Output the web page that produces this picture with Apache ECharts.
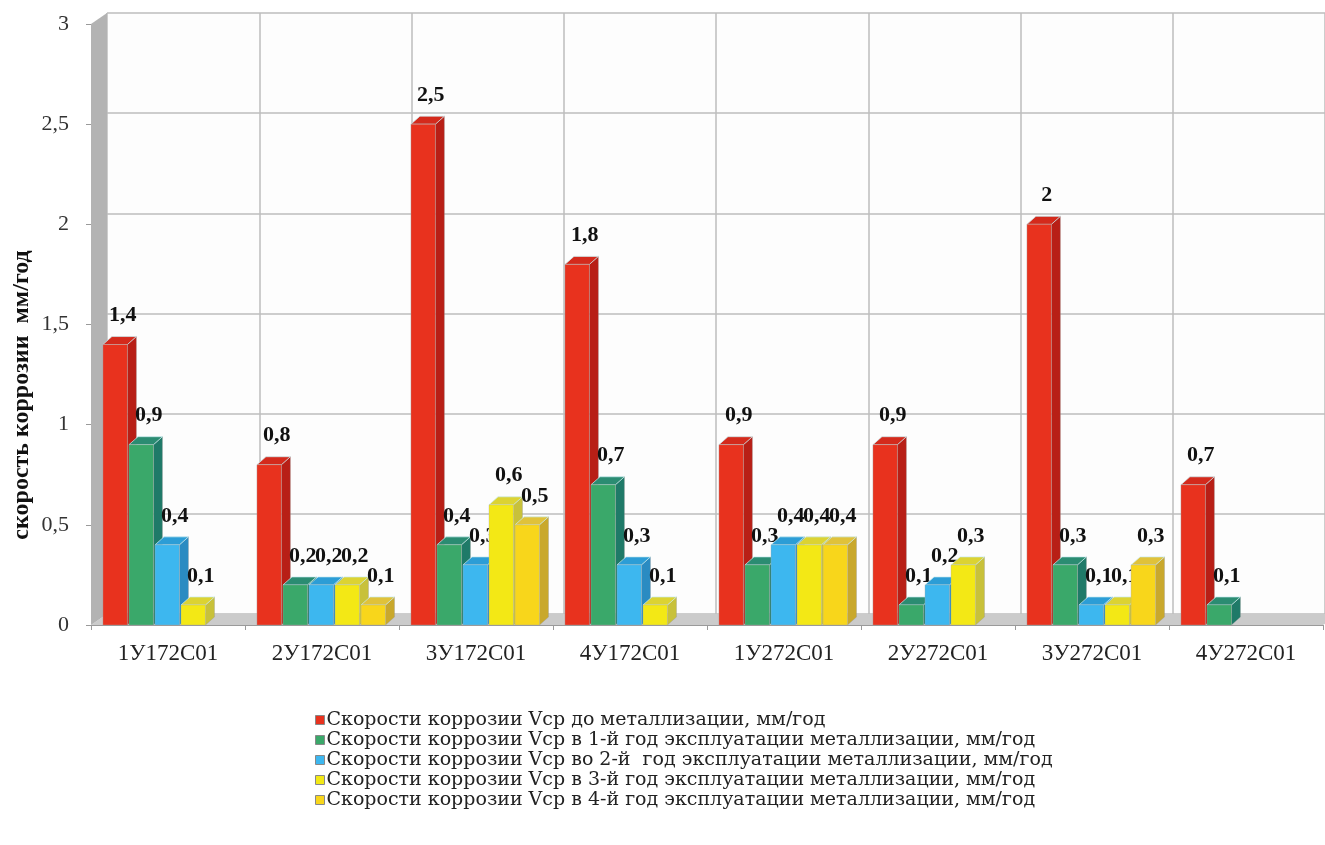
<!DOCTYPE html>
<html>
<head>
<meta charset="utf-8">
<title>Скорость коррозии</title>
<script src="https://cdn.jsdelivr.net/npm/echarts@6/dist/echarts.min.js"></script>
<style>
  html, body { margin: 0; padding: 0; background: #fff; }
  #chart { width: 1325px; height: 845px; }
</style>
</head>
<body>
<div id="chart"></div>
<script>
// categories along the x axis
var categories = ['1У172С01', '2У172С01', '3У172С01', '4У172С01', '1У272С01', '2У272С01', '3У272С01', '4У272С01'];

// one array per series, null = no bar
var beforeMet = [1.4, 0.8, 2.5, 1.8, 0.9, 0.9, 2, 0.7];
var year1 = [0.9, 0.2, 0.4, 0.7, 0.3, 0.1, 0.3, 0.1];
var year2 = [0.4, 0.2, 0.3, 0.3, 0.4, 0.2, 0.1, null];
var year3 = [0.1, 0.2, 0.6, 0.1, 0.4, 0.3, 0.1, null];
var year4 = [null, 0.1, 0.5, null, 0.4, null, 0.3, null];

var seriesNames = [
  'Скорости коррозии Vср до металлизации, мм/год',
  'Скорости коррозии Vср в 1-й год эксплуатации металлизации, мм/год',
  'Скорости коррозии Vср во 2-й  год эксплуатации металлизации, мм/год',
  'Скорости коррозии Vср в 3-й год эксплуатации металлизации, мм/год',
  'Скорости коррозии Vср в 4-й год эксплуатации металлизации, мм/год'
];

var yTicks = [0, 0.5, 1, 1.5, 2, 2.5, 3];

var allValues = [beforeMet, year1, year2, year3, year4];

var palette = [
  { front: '#e8321e', side: '#b81f16', top: '#d42a1c' },
  { front: '#3aa86a', side: '#1f7a68', top: '#2b8c72' },
  { front: '#3db7ef', side: '#2a8bc2', top: '#2c9dd6' },
  { front: '#f3e815', side: '#c8c13a', top: '#dcd332' },
  { front: '#f8d61b', side: '#c9a82c', top: '#e0c23a' }
];

var FONT = '"Liberation Serif", "Times New Roman", serif';
var DX = 9, DY = 8;     // bar depth
var BX = 16, BY = 11;   // wall depth

function fmt(v) {
  return String(v).replace('.', ',');
}

function makeBar(si) {
  return function (params, api) {
    var cat = api.value(0);
    var v = api.value(1);
    var band = api.size([1, 0])[0];
    var pitch = band * 0.169;
    var w = pitch * 0.94;
    var base = api.coord([cat, 0]);
    var top = api.coord([cat, v]);
    var x0 = base[0] - 2.5 * pitch + si * pitch;
    var x1 = x0 + w;
    var y0 = top[1], yb = base[1];
    var col = palette[si];
    return {
      type: 'group',
      children: [
        {
          type: 'polygon',
          shape: { points: [[x1, y0], [x1 + DX, y0 - DY], [x1 + DX, yb - DY], [x1, yb]] },
          style: { fill: col.side, stroke: 'rgba(150,150,150,0.6)', lineWidth: 0.6 }
        },
        {
          type: 'polygon',
          shape: { points: [[x0, y0], [x0 + DX, y0 - DY], [x1 + DX, y0 - DY], [x1, y0]] },
          style: { fill: col.top, stroke: 'rgba(200,235,240,0.9)', lineWidth: 0.8 }
        },
        {
          type: 'rect',
          shape: { x: x0, y: y0, width: w, height: yb - y0 },
          style: { fill: col.front, stroke: 'rgba(170,170,170,0.6)', lineWidth: 0.6 }
        },
        {
          type: 'text',
          x: x0 + w / 2 + DX / 2 + 3,
          y: y0 - DY - 10,
          style: {
            text: fmt(v),
            fill: '#111',
            font: 'bold 22px ' + FONT,
            textAlign: 'center',
            textVerticalAlign: 'bottom'
          }
        }
      ]
    };
  };
}

// floor strip and left wall of the 3d box
function renderDecor(params, api) {
  var band = api.size([1, 0])[0];
  var p0 = api.coord([0, 0]);
  var pN = api.coord([categories.length - 1, 0]);
  var pTop = api.coord([0, yTicks[yTicks.length - 1]]);
  var left = p0[0] - band / 2;
  var right = pN[0] + band / 2;
  var yb = p0[1], yt = pTop[1];
  return {
    type: 'group',
    children: [
      {
        type: 'polygon',
        shape: { points: [[left, yb], [left + BX, yb - BY], [right + BX, yb - BY], [right, yb]] },
        style: { fill: '#cbcbcb' }
      },
      {
        type: 'polygon',
        shape: { points: [[left, yt], [left + BX, yt - BY], [left + BX, yb - BY], [left, yb]] },
        style: { fill: '#b3b3b3' }
      }
    ]
  };
}

var series = [{
  type: 'custom',
  name: 'decor',
  xAxisIndex: 0,
  yAxisIndex: 0,
  z: 1,
  silent: true,
  renderItem: renderDecor,
  data: [[0, 0]]
}];

allValues.forEach(function (vals, si) {
  var data = [];
  vals.forEach(function (v, i) {
    if (v !== null) data.push([i, v]);
  });
  series.push({
    type: 'custom',
    name: seriesNames[si],
    xAxisIndex: 0,
    yAxisIndex: 0,
    z: 2,
    itemStyle: { color: palette[si].front },
    encode: { x: 0, y: 1 },
    renderItem: makeBar(si),
    data: data
  });
});

var chart = echarts.init(document.getElementById('chart'));
chart.setOption({
  backgroundColor: '#ffffff',
  animation: false,
  grid: [
    { left: 91, top: 24, width: 1232, height: 601 },
    { left: 91 + BX, top: 24 - BY, width: 1232, height: 601, show: true, backgroundColor: '#fdfdfd', borderWidth: 0 }
  ],
  xAxis: [
    {
      type: 'category',
      gridIndex: 0,
      data: categories,
      z: 5,
      axisLine: { lineStyle: { color: '#9a9a9a', width: 1 } },
      axisTick: { show: true, length: 5, lineStyle: { color: '#9a9a9a' } },
      axisLabel: { color: '#222', fontFamily: FONT, fontSize: 23, margin: 17 },
      splitLine: { show: false }
    },
    {
      type: 'category',
      gridIndex: 1,
      data: categories,
      axisLine: { show: false },
      axisTick: { show: false },
      axisLabel: { show: false },
      splitLine: { show: true, interval: 0, lineStyle: { color: '#bdbdbd', width: 1.5 } }
    }
  ],
  yAxis: [
    {
      type: 'value',
      gridIndex: 0,
      min: yTicks[0],
      max: yTicks[yTicks.length - 1],
      interval: 0.5,
      axisLine: { show: false },
      axisTick: { show: true, length: 5, lineStyle: { color: '#9a9a9a' } },
      axisLabel: {
        color: '#333',
        fontFamily: FONT,
        fontSize: 22,
        margin: 22,
        formatter: function (v) { return fmt(v); }
      },
      splitLine: { show: false }
    },
    {
      type: 'value',
      gridIndex: 1,
      min: yTicks[0],
      max: yTicks[yTicks.length - 1],
      interval: 0.5,
      axisLine: { show: false },
      axisTick: { show: false },
      axisLabel: { show: false },
      splitLine: { show: true, lineStyle: { color: '#bdbdbd', width: 1.5 } }
    }
  ],
  legend: {
    data: seriesNames,
    orient: 'vertical',
    left: 310,
    top: 705,
    icon: 'rect',
    itemWidth: 9,
    itemHeight: 9,
    itemGap: 0,
    itemStyle: { borderColor: '#888', borderWidth: 1 },
    textStyle: {
      color: '#222',
      fontFamily: '"DejaVu Serif", serif',
      fontSize: 19,
      lineHeight: 20,
      padding: [0, 0, 0, -3]
    }
  },
  graphic: [
    {
      type: 'text',
      x: 22,
      y: 395,
      rotation: Math.PI / 2,
      style: {
        text: 'скорость коррозии  мм/год',
        fill: '#111',
        font: 'bold 24px ' + FONT,
        textAlign: 'center',
        textVerticalAlign: 'middle'
      }
    }
  ],
  series: series
});
</script>
</body>
</html>
